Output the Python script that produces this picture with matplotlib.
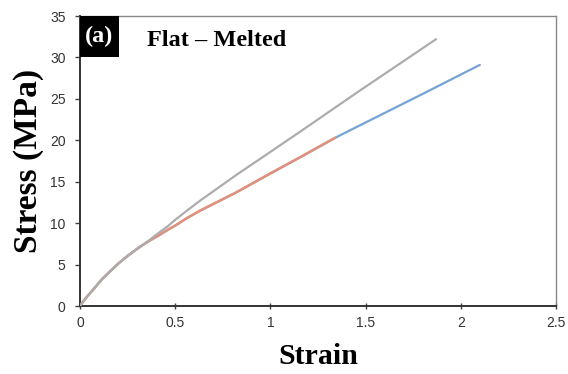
import matplotlib
matplotlib.use("Agg")
import matplotlib.pyplot as plt
from matplotlib.patches import Rectangle

# Data
gray_strain = [0, 0.02, 0.042, 0.07, 0.095, 0.12, 0.148, 0.175, 0.2, 0.253, 0.306, 0.359,
               0.412, 0.465, 0.5, 0.561, 0.63, 0.82, 1.0, 1.16, 1.47, 1.87]
gray_stress = [0, 0.65, 1.27, 2.0, 2.68, 3.35, 3.96, 4.55, 5.1, 6.1, 7.0, 7.85,
               8.8, 9.7, 10.4, 11.5, 12.7, 15.8, 18.6, 21.1, 26.0, 32.2]

blue_strain = [0, 0.02, 0.042, 0.07, 0.095, 0.12, 0.148, 0.175, 0.2, 0.253, 0.306, 0.359,
               0.412, 0.465, 0.5, 0.561, 0.63, 0.82, 1.0, 1.16, 1.34, 1.47, 1.8, 2.1]
blue_stress = [0, 0.65, 1.27, 2.0, 2.68, 3.35, 3.96, 4.55, 5.1, 6.1, 7.0, 7.8,
               8.5, 9.25, 9.7, 10.6, 11.5, 13.7, 16.0, 18.0, 20.3, 21.8, 25.6, 29.1]

orange_strain = [0, 0.02, 0.042, 0.07, 0.095, 0.12, 0.148, 0.175, 0.2, 0.253, 0.306, 0.359,
                 0.412, 0.465, 0.5, 0.561, 0.63, 0.82, 1.0, 1.16, 1.34]
orange_stress = [0, 0.65, 1.27, 2.0, 2.68, 3.35, 3.96, 4.55, 5.1, 6.1, 7.0, 7.8,
                 8.5, 9.25, 9.7, 10.6, 11.5, 13.7, 16.0, 18.0, 20.3]

x_ticks = [0, 0.5, 1, 1.5, 2, 2.5]
x_tick_labels = ["0", "0.5", "1", "1.5", "2", "2.5"]
y_ticks = [0, 5, 10, 15, 20, 25, 30, 35]

serif = ["Liberation Serif", "DejaVu Serif"]
sans = ["Liberation Sans", "DejaVu Sans"]

fig = plt.figure(figsize=(5.68, 3.74), dpi=100)
ax = fig.add_axes([80 / 568, 1 - 306 / 374, (556 - 80) / 568, (306 - 16) / 374])

ax.plot(blue_strain, blue_stress, color="#76A3D3", lw=1.6, zorder=2,
        solid_joinstyle="round", solid_capstyle="round")
ax.plot(orange_strain, orange_stress, color="#E3907A", lw=1.8, zorder=3,
        solid_joinstyle="round", solid_capstyle="round")
ax.plot(gray_strain, gray_stress, color="#ACACAC", lw=1.6, zorder=4,
        solid_joinstyle="round", solid_capstyle="round")

ax.set_xlim(0, 2.5)
ax.set_ylim(0, 35)
ax.set_xticks(x_ticks)
ax.set_xticklabels(x_tick_labels)
ax.set_yticks(y_ticks)

for lab in ax.get_xticklabels() + ax.get_yticklabels():
    lab.set_family(sans)
    lab.set_fontsize(10)
    lab.set_color("#333333")

ax.tick_params(axis="y", direction="out", length=3.5, width=1.0, color="#404040", pad=7)
ax.tick_params(axis="x", direction="inout", length=4.5, width=1.0, color="#404040", pad=5)

ax.spines["left"].set_color("#333333")
ax.spines["left"].set_linewidth(1.4)
ax.spines["bottom"].set_color("#333333")
ax.spines["bottom"].set_linewidth(1.4)
ax.spines["top"].set_color("#888888")
ax.spines["top"].set_linewidth(1.0)
ax.spines["right"].set_color("#888888")
ax.spines["right"].set_linewidth(1.0)

ax.set_xlabel("Strain", family=serif, fontweight="bold", fontsize=21.5, labelpad=9)
ax.set_ylabel("Stress (MPa)", family=serif, fontweight="bold", fontsize=24, labelpad=4)

# (a) label box
box = Rectangle((0, 1 - 41 / 290), 39 / 476, 41 / 290, transform=ax.transAxes,
                facecolor="black", edgecolor="none", zorder=5)
ax.add_patch(box)
ax.text(19.5 / 476, 1 - 20 / 290, "(a)", transform=ax.transAxes, color="white",
        family=serif, fontweight="bold", fontsize=17.5, ha="center", va="center", zorder=6)
ax.text(67 / 476, 1 - 24 / 290, "Flat \u2013 Melted", transform=ax.transAxes, color="black",
        family=serif, fontweight="bold", fontsize=17.5, ha="left", va="center", zorder=6)

fig.savefig("out.png", dpi=100)
